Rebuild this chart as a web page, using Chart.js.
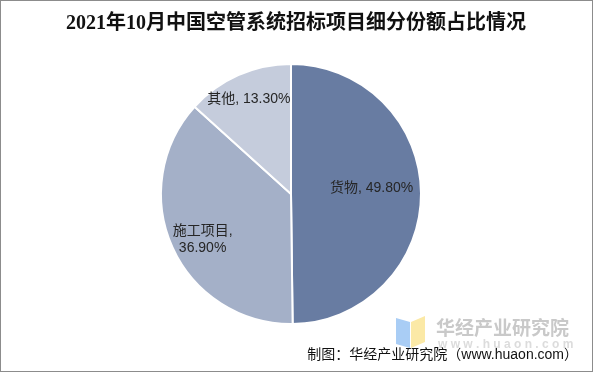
<!DOCTYPE html>
<html><head><meta charset="utf-8">
<script src="https://cdn.jsdelivr.net/npm/chart.js@4/dist/chart.umd.min.js"></script>
<style>html,body{margin:0;padding:0;background:#fff}#wrap{width:593px;height:372px;position:relative}</style>
</head><body><div id="wrap"><canvas id="c" width="593" height="372"></canvas></div>
<script>
const titleText = "2021年10月中国空管系统招标项目细分份额占比情况";
const categories = ["货物", "施工项目", "其他"];
const shares = [49.8, 36.9, 13.3];
const colors = ["#687CA2", "#A4B0C8", "#C5CCDC"];
const sourceText = "制图：华经产业研究院（www.huaon.com）";

const labelPos = [
  {r: 0.62, dy: -5, dx: 0, lines: i => [categories[i] + ", " + shares[i].toFixed(2) + "%"]},
  {r: 0.78, dy: 4, dx: 4, lines: i => [categories[i] + ",", shares[i].toFixed(2) + "%"]},
  {r: 0.80, dy: 0, dx: 0, lines: i => [categories[i] + ", " + shares[i].toFixed(2) + "%"]}
];

const deco = {
  id: "deco",
  beforeDraw(chart) {
    const ctx = chart.ctx;
    ctx.save();
    ctx.fillStyle = "#fff";
    ctx.fillRect(0, 0, 593, 372);
    ctx.restore();
  },
  afterDraw(chart) {
    const ctx = chart.ctx;
    ctx.save();
    ctx.strokeStyle = "#8c8c8c";
    ctx.lineWidth = 1;
    ctx.strokeRect(0.5, 0.5, 592, 371);
    ctx.fillStyle = "#111";
    ctx.font = "bold 20px 'Liberation Serif', 'Noto Sans CJK SC', serif";
    ctx.textAlign = "center";
    ctx.textBaseline = "middle";
    ctx.fillText(titleText, 296, 24);
    // watermark
    ctx.fillStyle = "#a9cdf5";
    ctx.beginPath(); ctx.moveTo(396, 318); ctx.lineTo(410, 322); ctx.lineTo(410, 348); ctx.lineTo(396, 344); ctx.closePath(); ctx.fill();
    ctx.fillStyle = "#fbe9a6";
    ctx.beginPath(); ctx.moveTo(411, 322); ctx.lineTo(425, 316); ctx.lineTo(425, 342); ctx.lineTo(411, 348); ctx.closePath(); ctx.fill();
    ctx.fillStyle = "#c9c9c9";
    ctx.font = "bold 19px 'Noto Sans CJK SC', sans-serif";
    ctx.textAlign = "left";
    ctx.fillText("华经产业研究院", 436, 328);
    ctx.fillStyle = "#dcdcdc";
    ctx.font = "bold 12px 'Liberation Sans', sans-serif";
    ctx.fillText("w w w . h u a o n . c o m", 438, 345);
    // source
    ctx.fillStyle = "#111";
    ctx.font = "14px 'Liberation Sans', 'Noto Sans CJK SC', sans-serif";
    ctx.textAlign = "right";
    ctx.fillText(sourceText, 578, 355);
    // labels
    const meta = chart.getDatasetMeta(0);
    ctx.font = "14px 'Liberation Sans', 'Noto Sans CJK SC', sans-serif";
    ctx.fillStyle = "#262626";
    ctx.textAlign = "center";
    meta.data.forEach((arc, i) => {
      const p = labelPos[i];
      const mid = (arc.startAngle + arc.endAngle) / 2;
      const r = arc.outerRadius * p.r;
      const x = arc.x + Math.cos(mid) * r + (p.dx || 0);
      const y = arc.y + Math.sin(mid) * r + (p.dy || 0);
      const lines = p.lines(i);
      lines.forEach((t, k) => {
        ctx.fillText(t, x, y + (k - (lines.length - 1) / 2) * 17);
      });
    });
    ctx.restore();
  }
};

new Chart(document.getElementById("c"), {
  type: "pie",
  data: {
    labels: categories,
    datasets: [{ data: shares, backgroundColor: colors, borderColor: "#fff", borderWidth: 2 }]
  },
  options: {
    responsive: false,
    animation: false,
    layout: { padding: { top: 63, bottom: 47, left: 100, right: 111 } },
    plugins: { legend: { display: false }, tooltip: { enabled: false }, title: { display: false } }
  },
  plugins: [deco]
});
</script></body></html>
